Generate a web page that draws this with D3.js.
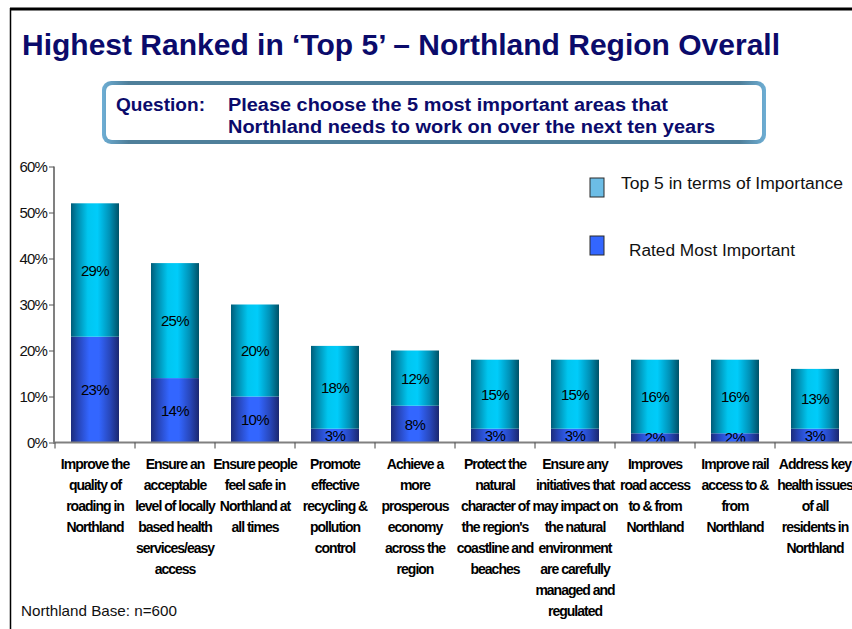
<!DOCTYPE html>
<html>
<head>
<meta charset="utf-8">
<script src="https://cdn.jsdelivr.net/npm/d3@7/dist/d3.min.js"></script>
<style>
  html, body { margin: 0; padding: 0; background: #fff; }
  svg { display: block; font-family: "Liberation Sans", Arial, Helvetica, sans-serif; }
</style>
</head>
<body>
<svg id="chart" width="852" height="629"></svg>
<script>
// ---------- data ----------
const categories = [
  ["Improve the", "quality of", "roading in", "Northland"],
  ["Ensure an", "acceptable", "level of locally", "based  health", "services/easy", "access"],
  ["Ensure people", "feel safe in", "Northland at", "all times"],
  ["Promote", "effective", "recycling &", "pollution", "control"],
  ["Achieve a", "more", "prosperous", "economy", "across the", "region"],
  ["Protect the", "natural", "character of", "the region's", "coastline and", "beaches"],
  ["Ensure any", "initiatives that", "may impact on", "the natural", "environment", "are carefully", "managed and", "regulated"],
  ["Improves", "road access", "to & from", "Northland"],
  ["Improve rail", "access to &", "from", "Northland"],
  ["Address key", "health issues", "of all", "residents in", "Northland"]
];
const ratedMostImportant = [23, 14, 10, 3, 8, 3, 3, 2, 2, 3];
const top5Importance    = [29, 25, 20, 18, 12, 15, 15, 16, 16, 13];
const yTickValues = [0, 10, 20, 30, 40, 50, 60];
const seriesNames = ["Rated Most Important", "Top 5 in terms of Importance"];
const titleText = "Highest Ranked in \u2018Top 5\u2019 \u2013 Northland Region Overall";
const questionLabel = "Question:";
const questionLines = ["Please choose the 5 most important areas that", "Northland needs to work on over the next ten years"];
const footerText = "Northland Base:  n=600";

// ---------- setup ----------
const svg = d3.select("#chart");
const navy = "#0b0b6b";

const defs = svg.append("defs");
function hGrad(id, stops) {
  const g = defs.append("linearGradient").attr("id", id)
    .attr("x1", "0%").attr("x2", "100%").attr("y1", "0%").attr("y2", "0%");
  stops.forEach(s => g.append("stop").attr("offset", s[0]).attr("stop-color", s[1]));
}
hGrad("gTop", [["0%", "#005c78"], ["12%", "#0086a8"], ["35%", "#00c6f0"], ["55%", "#00ccfa"], ["80%", "#0092b8"], ["100%", "#005268"]]);
hGrad("gBot", [["0%", "#1c2c7c"], ["15%", "#2644b8"], ["38%", "#3366ff"], ["58%", "#3366ff"], ["82%", "#2746b8"], ["100%", "#1a2870"]]);
const boxGrad = defs.append("linearGradient").attr("id", "gBox")
  .attr("x1", "0%").attr("x2", "100%").attr("y1", "0%").attr("y2", "0%");
boxGrad.append("stop").attr("offset", "0%").attr("stop-color", "#6eaed4");
boxGrad.append("stop").attr("offset", "4%").attr("stop-color", "#4f7f9a");
boxGrad.append("stop").attr("offset", "96%").attr("stop-color", "#4f7f9a");
boxGrad.append("stop").attr("offset", "100%").attr("stop-color", "#6eaed4");

// ---------- frame ----------
svg.append("line").attr("x1", 10).attr("x2", 852).attr("y1", 9).attr("y2", 9)
  .attr("stroke", "#000").attr("stroke-width", 3);
svg.append("line").attr("x1", 10.5).attr("x2", 10.5).attr("y1", 8).attr("y2", 629)
  .attr("stroke", "#000").attr("stroke-width", 1.5);

// ---------- title ----------
svg.append("text").attr("x", 22).attr("y", 55)
  .attr("font-size", 30).attr("font-weight", "bold").attr("fill", navy)
  .attr("textLength", 758).attr("lengthAdjust", "spacingAndGlyphs")
  .text(titleText);

// ---------- question box ----------
svg.append("rect").attr("x", 102).attr("y", 81).attr("width", 664).attr("height", 63)
  .attr("rx", 9).attr("fill", "url(#gBox)");
svg.append("rect").attr("x", 106).attr("y", 85).attr("width", 656).attr("height", 55)
  .attr("rx", 6).attr("fill", "#fff");
svg.append("text").attr("x", 116).attr("y", 111)
  .attr("font-size", 18).attr("font-weight", "bold").attr("fill", navy)
  .attr("textLength", 89).attr("lengthAdjust", "spacingAndGlyphs").text(questionLabel);
const qLens = [440, 487];
questionLines.forEach((l, i) => {
  svg.append("text").attr("x", 228).attr("y", 111 + i * 22)
    .attr("font-size", 18).attr("font-weight", "bold").attr("fill", navy)
    .attr("textLength", qLens[i]).attr("lengthAdjust", "spacingAndGlyphs").text(l);
});

// ---------- scales ----------
const x = d3.scaleBand().domain(d3.range(categories.length))
  .range([55, 855]).paddingInner(0.4).paddingOuter(0.2);
const y = d3.scaleLinear().domain([0, 60]).range([442.5, 166.5]);

const rows = categories.map((c, i) => ({ i, rated: ratedMostImportant[i], top5: top5Importance[i] }));
const stack = d3.stack().keys(["rated", "top5"]);
const stacked = stack(rows);
const fills = ["url(#gBot)", "url(#gTop)"];

// ---------- bars ----------
const layers = svg.append("g").selectAll("g").data(stacked).join("g")
  .attr("fill", (d, k) => fills[k]);
layers.selectAll("rect").data(d => d).join("rect")
  .attr("x", d => x(d.data.i))
  .attr("width", x.bandwidth())
  .attr("y", d => y(d[1]))
  .attr("height", d => y(d[0]) - y(d[1]));

// value labels
stacked.forEach((layer, k) => {
  svg.append("g").selectAll("text").data(layer).join("text")
    .attr("x", d => x(d.data.i) + x.bandwidth() / 2)
    .attr("y", d => (y(d[0]) + y(d[1])) / 2 + 5.5)
    .attr("text-anchor", "middle")
    .attr("font-size", 15).attr("letter-spacing", -0.6).attr("fill", "#000")
    .text(d => (d[1] - d[0]) + "%");
});

// ---------- y axis ----------
const yAxis = svg.append("g").attr("transform", "translate(54,0)")
  .call(d3.axisLeft(y).tickValues(yTickValues).tickSize(5).tickPadding(2)
    .tickFormat(d => d + "%"));
yAxis.select(".domain").attr("stroke", "#808080").attr("stroke-width", 2)
  .attr("d", `M0,${y(60)}V${y(0) + 1}`);
yAxis.selectAll(".tick line").attr("stroke", "#555");
yAxis.selectAll(".tick text").attr("font-size", 15).attr("letter-spacing", -0.8)
  .attr("fill", "#111").attr("font-family", "'Liberation Sans', Arial, sans-serif");

// ---------- x axis ----------
const xAxis = svg.append("g").attr("transform", `translate(0,${y(0)})`)
  .call(d3.axisBottom(x).tickSize(0).tickFormat(""));
xAxis.select(".domain").attr("stroke", "#808080").attr("stroke-width", 2)
  .attr("d", `M53,0H852`);
const bounds = d3.range(categories.length + 1).map(i => x.range()[0] + i * x.step());
xAxis.selectAll(".bound").data(bounds).join("line").attr("class", "bound")
  .attr("x1", d => d).attr("x2", d => d).attr("y1", 0).attr("y2", 6)
  .attr("stroke", "#444").attr("stroke-width", 1);

// category labels
const catG = svg.append("g");
categories.forEach((lines, i) => {
  const t = catG.append("text")
    .attr("x", x(i) + x.bandwidth() / 2).attr("y", 469)
    .attr("text-anchor", "middle").attr("font-size", 14).attr("font-weight", "bold")
    .attr("letter-spacing", -1).attr("fill", "#000");
  lines.forEach((l, j) => {
    t.append("tspan").attr("x", x(i) + x.bandwidth() / 2).attr("y", 469 + j * 21).text(l);
  });
});

// ---------- legend ----------
const legendItems = [
  { name: seriesNames[1], color: "#6cbde6", sy: 178, ty: 189, tx: 621, len: 222 },
  { name: seriesNames[0], color: "#3366ff", sy: 236, ty: 256, tx: 629, len: 166 }
];
const leg = svg.append("g");
legendItems.forEach(it => {
  leg.append("rect").attr("x", 590).attr("y", it.sy).attr("width", 14).attr("height", 19)
    .attr("fill", it.color).attr("stroke", "#2a2a2a").attr("stroke-width", 1);
  leg.append("text").attr("x", it.tx).attr("y", it.ty).attr("font-size", 16)
    .attr("fill", "#111").attr("textLength", it.len).attr("lengthAdjust", "spacingAndGlyphs")
    .text(it.name);
});

// ---------- footer ----------
svg.append("text").attr("x", 21).attr("y", 616).attr("font-size", 14.5)
  .attr("fill", "#111").attr("textLength", 156).attr("lengthAdjust", "spacingAndGlyphs")
  .text(footerText);
</script>
</body>
</html>
